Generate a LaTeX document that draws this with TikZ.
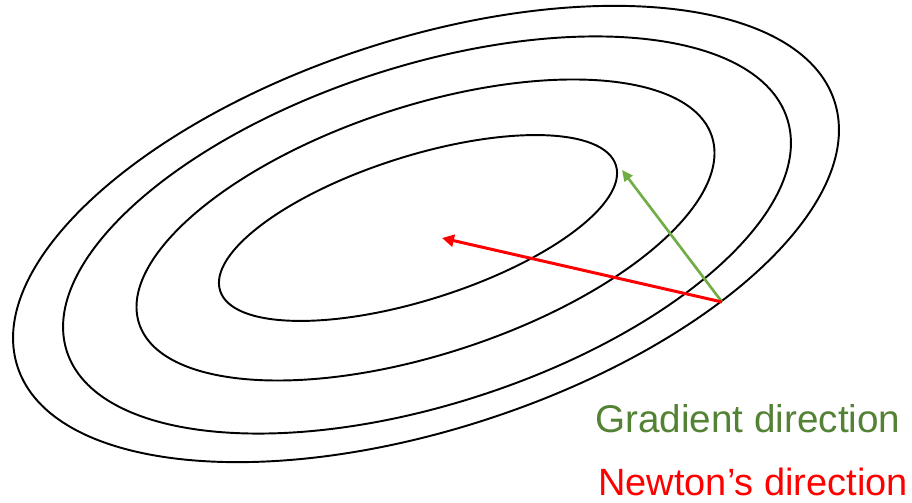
\documentclass[tikz,border=0pt]{standalone}
\usepackage{fontspec}
\setmainfont{Liberation Sans}
\usepackage{tikz}
\usetikzlibrary{arrows.meta, positioning}
\definecolor{gradarrow}{HTML}{70AD47}
\definecolor{gradtext}{HTML}{548235}
\definecolor{newtonred}{HTML}{FF0000}
\begin{document}
\begin{tikzpicture}[x=0.02cm, y=0.02cm, font=\fontsize{22}{26}\selectfont]
          \useasboundingbox (0,0) rectangle (912,503);
          \foreach \cx/\cy/\ra/\rb/\ang in {426/269/429.5/195.1/18, 427/268/378.5/169.1/17.9, 425.5/273/301.3/124/18.1, 418/275/207.6/71.9/17.6}
            \draw[line width=1.1pt, rotate around={\ang:(\cx,\cy)}] (\cx,\cy) ellipse [x radius=\ra, y radius=\rb];
          \coordinate (start) at (722,201);
          \coordinate (gradtip) at (622,333);
          \coordinate (newtontip) at (442,265);
          \draw[-{Triangle[length=0.22cm, width=0.2cm]}, line width=1.5pt, gradarrow] (start) -- (gradtip);
          \draw[-{Triangle[length=0.24cm, width=0.24cm]}, line width=1.7pt, newtonred] (start) -- (newtontip);
          \node[anchor=base west, inner sep=0pt, text=gradtext] (gradlabel) at (595,70) {Gradient direction};
          \node[anchor=base west, inner sep=0pt, text=newtonred, font=\fontsize{21.6}{26}\selectfont] (newtonlabel) at (598,7) {Newton’s direction};
        \end{tikzpicture}
\end{document}
